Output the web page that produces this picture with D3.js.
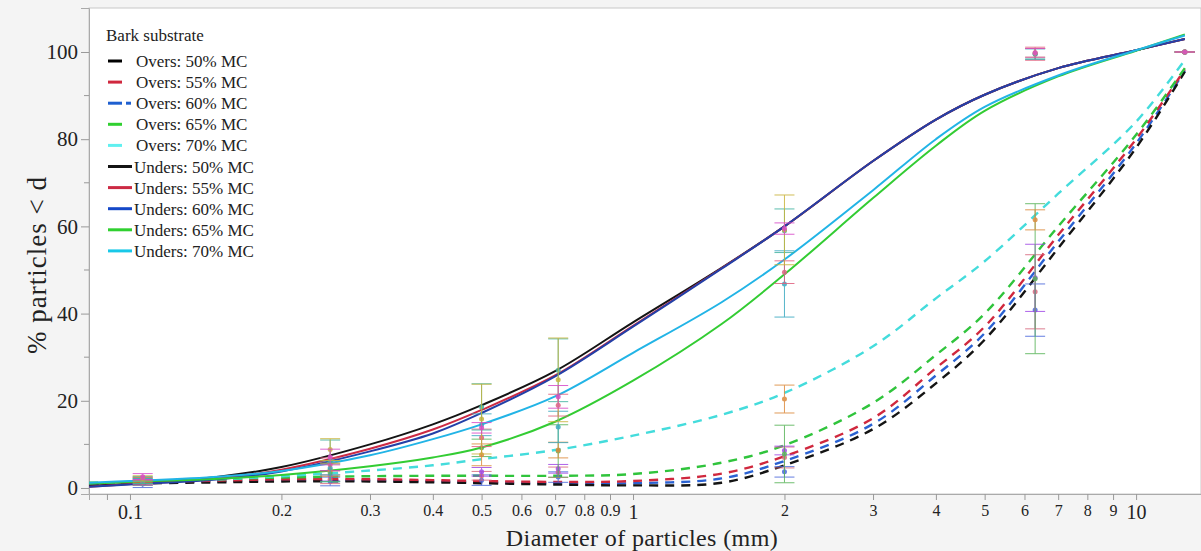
<!DOCTYPE html>
<html lang="en">
<head>
    <meta charset="UTF-8">
    <title>Bark substrate particle size distribution</title>
    <script src="https://d3js.org/d3.v7.min.js"></script>
    <style>
        body {
            margin: 0;
            background: #f4f4f4;
            font-family: "Liberation Serif", "Times New Roman", serif;
        }
        .tick-major { font-size: 21px; }
        .tick-minor { font-size: 16px; }
        .legend text { font-size: 17px; fill: #222; }
    </style>
</head>
<body>
    <div id="chart"></div>

    <script>
        // fitted curves: % passing at these diameters (mm)
        let curveSizes = [0.083, 0.1, 0.15, 0.2, 0.3, 0.4, 0.5, 0.7, 1, 1.5, 2, 3, 4, 5, 7, 10, 12.5];
        let oversMc50 = [0.8, 1.0, 1.3, 1.5, 1.5, 1.3, 1.1, 0.8, 0.6, 1.2, 5.2, 13.5, 24, 34, 55, 78, 95.5];
        let oversMc55 = [1.0, 1.2, 1.7, 2.0, 2.0, 1.8, 1.6, 1.4, 1.6, 3.3, 7.3, 16, 27.5, 37, 58, 80, 96];
        let oversMc60 = [0.9, 1.1, 1.5, 1.7, 1.7, 1.5, 1.3, 1.1, 1.1, 2.2, 6.2, 14.7, 25.8, 35.5, 56.5, 79, 95.7];
        let oversMc65 = [1.2, 1.4, 2.0, 2.4, 2.7, 2.8, 2.8, 2.8, 3.2, 5.8, 9.8, 19.5, 30.5, 40, 60, 81, 96.3];
        let oversMc70 = [1.0, 1.3, 2.0, 2.7, 4.0, 5.2, 6.6, 8.7, 12, 16.8, 21.8, 32.5, 43.5, 52, 67.5, 84, 98.2];
        let undersMc50 = [0.5, 1.0, 2.6, 4.8, 10, 14.6, 19, 26.8, 38, 50.5, 60, 75, 84.5, 90.2, 96.3, 100.4, 103];
        let undersMc55 = [0.3, 0.9, 2.2, 4.2, 9.0, 13.4, 17.9, 25.8, 37.2, 50.4, 60, 75, 84.5, 90.2, 96.3, 100.4, 103];
        let undersMc60 = [0.3, 0.8, 2.0, 3.8, 8.4, 12.5, 17.2, 25.6, 37, 50.3, 60, 75, 84.5, 90.2, 96.3, 100.4, 103];
        let undersMc65 = [1.0, 1.4, 2.1, 3.0, 5.0, 7.0, 9.3, 15.2, 24.6, 37.6, 49, 66.5, 78.5, 86.5, 94.4, 100.3, 104];
        let undersMc70 = [1.2, 1.6, 2.6, 3.9, 7.5, 11.2, 14.6, 21, 31, 42.6, 52.4, 68.3, 80, 87.4, 94.6, 100.4, 103.8];

        // measured points: sieve sizes, means and standard deviations
        let sieveSizes = [0.106, 0.25, 0.5, 0.71, 2.0, 6.3, 12.5];
        let oversMc50Mean = [0.9, 1.5, 1.8, 2.5, 3.7, 40.8, 100];
        let oversMc50Sd = [0.8, 1.0, 1.2, 1.2, 1.2, 6.0, 0];
        let oversMc55Mean = [1.2, 2.0, 2.8, 3.6, 7.0, 45.0, 100];
        let oversMc55Sd = [0.6, 1.0, 1.0, 1.2, 2.4, 8.5, 0];
        let oversMc60Mean = [1.4, 2.8, 3.7, 4.4, 8.6, 48.2, 100];
        let oversMc60Sd = [0.5, 1.2, 1.0, 1.0, 1.0, 7.7, 0];
        let oversMc65Mean = [1.6, 3.5, 9.2, 8.5, 7.8, 48.0, 100];
        let oversMc65Sd = [0.6, 2.0, 2.0, 6.0, 6.6, 17.2, 0];
        let oversMc70Mean = [1.8, 4.2, 7.6, 8.7, 20.4, 61.5, 100];
        let oversMc70Sd = [0.6, 1.5, 2.5, 1.8, 3.2, 2.3, 0];
        let undersMc50Mean = [2.2, 8.8, 15.8, 24.8, 59.2, 99.8, 100];
        let undersMc50Sd = [0.6, 2.5, 8.0, 9.6, 8.0, 1.0, 0];
        let undersMc55Mean = [2.6, 7.1, 13.8, 20.9, 59.5, 99.8, 100];
        let undersMc55Sd = [0.7, 1.8, 1.2, 2.6, 1.3, 1.0, 0];
        let undersMc60Mean = [1.8, 6.2, 18.6, 27.0, 59.0, 99.6, 100];
        let undersMc60Sd = [0.8, 4.8, 5.3, 7.2, 5.0, 1.2, 0];
        let undersMc65Mean = [1.6, 5.4, 11.5, 19.0, 49.5, 99.6, 100];
        let undersMc65Sd = [0.9, 1.5, 2.0, 2.5, 2.6, 1.5, 0];
        let undersMc70Mean = [1.4, 4.6, 14.5, 14.0, 46.8, 99.5, 100];
        let undersMc70Sd = [0.8, 1.6, 2.5, 3.6, 7.6, 1.2, 0];

        let legendLabels = ["Overs: 50% MC", "Overs: 55% MC", "Overs: 60% MC", "Overs: 65% MC", "Overs: 70% MC",
                            "Unders: 50% MC", "Unders: 55% MC", "Unders: 60% MC", "Unders: 65% MC", "Unders: 70% MC"];
        let yTicks = [0, 20, 40, 60, 80, 100];
        let yMinorTicks = [10, 30, 50, 70, 90];
        let xTicks = [0.09, 0.1, 0.2, 0.3, 0.4, 0.5, 0.6, 0.7, 0.8, 0.9, 1, 2, 3, 4, 5, 6, 7, 8, 9, 10];
        let xMajorLabels = [0.1, 1, 10];

        let curves = [
            { name: legendLabels[0], values: oversMc50, color: "#141414", dashed: true },
            { name: legendLabels[1], values: oversMc55, color: "#d0283e", dashed: true },
            { name: legendLabels[2], values: oversMc60, color: "#2a62d2", dashed: true },
            { name: legendLabels[3], values: oversMc65, color: "#30c43c", dashed: true },
            { name: legendLabels[4], values: oversMc70, color: "#44dcdc", dashed: true },
            { name: legendLabels[5], values: undersMc50, color: "#141414", dashed: false },
            { name: legendLabels[6], values: undersMc55, color: "#cc2a44", dashed: false },
            { name: legendLabels[7], values: undersMc60, color: "#2340a8", dashed: false },
            { name: legendLabels[8], values: undersMc65, color: "#33cc33", dashed: false },
            { name: legendLabels[9], values: undersMc70, color: "#22b4e6", dashed: false }
        ];
        let legendColors = ["#000000", "#d0283e", "#1e5fd0", "#30d030", "#60f0f0",
                            "#141414", "#cc2a44", "#1448c8", "#30d030", "#18c8e8"];

        let points = [
            { mean: oversMc50Mean, sd: oversMc50Sd, color: "#4a68dc" },
            { mean: oversMc55Mean, sd: oversMc55Sd, color: "#d8687e" },
            { mean: oversMc60Mean, sd: oversMc60Sd, color: "#a048e6" },
            { mean: oversMc65Mean, sd: oversMc65Sd, color: "#58b458" },
            { mean: oversMc70Mean, sd: oversMc70Sd, color: "#dc8a3c" },
            { mean: undersMc70Mean, sd: undersMc70Sd, color: "#39a9c0" },
            { mean: undersMc65Mean, sd: undersMc65Sd, color: "#e0607e" },
            { mean: undersMc60Mean, sd: undersMc60Sd, color: "#3fb3a0" },
            { mean: undersMc50Mean, sd: undersMc50Sd, color: "#c9b43a" },
            { mean: undersMc55Mean, sd: undersMc55Sd, color: "#d84ac8" }
        ];

        let width = 1201, height = 551;
        let plot = { left: 89, top: 8, right: 1201, bottom: 494 };

        let svg = d3.select("#chart").append("svg")
            .attr("width", width)
            .attr("height", height);

        let x = d3.scaleLog()
            .domain([0.0829, 13.46])
            .range([plot.left, plot.right]);

        let y = d3.scaleLinear()
            .domain([-1.38, 110.09])
            .range([plot.bottom, plot.top]);

        svg.append("rect")
            .attr("x", plot.left)
            .attr("y", plot.top)
            .attr("width", plot.right - plot.left)
            .attr("height", plot.bottom - plot.top)
            .attr("fill", "#ffffff")
            .attr("stroke", "#c8c8c8")
            .attr("stroke-width", 1);

        svg.append("clipPath").attr("id", "clip")
            .append("rect")
            .attr("x", plot.left)
            .attr("y", plot.top)
            .attr("width", plot.right - plot.left)
            .attr("height", plot.bottom - plot.top);

        // y axis
        let yAxis = svg.append("g")
            .attr("transform", "translate(" + plot.left + ",0)")
            .call(d3.axisLeft(y).tickValues(yTicks).tickSize(8).tickPadding(3).tickFormat(d3.format("d")));
        yAxis.selectAll("text").attr("class", "tick-major")
            .style("font-family", "Liberation Serif").attr("fill", "#222");
        yAxis.append("g").selectAll("line")
            .data(yMinorTicks)
            .enter().append("line")
            .attr("x1", -5).attr("x2", 0)
            .attr("y1", d => y(d)).attr("y2", d => y(d))
            .attr("stroke", "#999");

        // x axis
        let xAxis = svg.append("g")
            .attr("transform", "translate(0," + plot.bottom + ")")
            .call(d3.axisBottom(x).tickValues(xTicks).tickSize(6).tickPadding(4)
                .tickFormat(d => d === 0.09 ? "" : d3.format("~g")(d)));
        xAxis.selectAll(".tick text")
            .attr("class", d => xMajorLabels.includes(d) ? "tick-major" : "tick-minor")
            .style("font-size", d => xMajorLabels.includes(d) ? "20px" : null)
            .attr("dy", "0.75em")
            .style("font-family", "Liberation Serif")
            .attr("fill", "#222");

        svg.selectAll(".domain").attr("stroke", "#aaa");
        svg.selectAll(".tick line").attr("stroke", "#999");

        // curves
        let line = d3.line()
            .x((v, i) => x(curveSizes[i]))
            .y(v => y(v))
            .curve(d3.curveCatmullRom.alpha(0.5));

        let drawOrder = [2, 0, 1, 3, 4, 5, 6, 7, 8, 9];
        let curveLayer = svg.append("g").attr("clip-path", "url(#clip)");
        drawOrder.forEach(i => {
            let c = curves[i];
            curveLayer.append("path")
                .datum(c.values)
                .attr("d", line)
                .attr("fill", "none")
                .attr("stroke", c.color)
                .attr("stroke-width", c.dashed ? 2.4 : 2)
                .attr("stroke-dasharray", c.dashed ? "9,7" : null);
        });

        // error bars
        let barLayer = svg.append("g").attr("clip-path", "url(#clip)");
        points.forEach(p => {
            let g = barLayer.append("g").attr("stroke", p.color).attr("fill", p.color).attr("opacity", 0.85);
            sieveSizes.forEach((s, i) => {
                let cx = x(s), lo = y(p.mean[i] - p.sd[i]), hi = y(p.mean[i] + p.sd[i]);
                g.append("line").attr("x1", cx).attr("x2", cx).attr("y1", lo).attr("y2", hi);
                g.append("line").attr("x1", cx - 10).attr("x2", cx + 10).attr("y1", lo).attr("y2", lo);
                g.append("line").attr("x1", cx - 10).attr("x2", cx + 10).attr("y1", hi).attr("y2", hi);
                g.append("circle").attr("cx", cx).attr("cy", y(p.mean[i])).attr("r", 2.5).attr("stroke", "none");
            });
        });

        // legend
        let legend = svg.append("g").attr("class", "legend");
        legend.append("text")
            .attr("x", 106).attr("y", 41)
            .text("Bark substrate");

        curves.forEach((c, i) => {
            let cy = 61 + i * 21.1;
            let item = legend.append("g");
            item.append("line")
                .attr("x1", 108).attr("x2", c.dashed ? 122 : 132)
                .attr("y1", cy).attr("y2", cy)
                .attr("stroke", legendColors[i])
                .attr("stroke-width", 3);
            if (i === 2) {
                item.append("line")
                    .attr("x1", 126).attr("x2", 131)
                    .attr("y1", cy).attr("y2", cy)
                    .attr("stroke", legendColors[i])
                    .attr("stroke-width", 3);
            }
            item.append("text")
                .attr("x", c.dashed ? 136 : 134).attr("y", cy + 6)
                .text(c.name);
        });

        // axis titles
        svg.append("text")
            .attr("x", 642).attr("y", 546)
            .attr("text-anchor", "middle")
            .style("font-size", "24px")
            .style("letter-spacing", "0.4px")
            .attr("fill", "#222")
            .text("Diameter of particles (mm)");

        svg.append("text")
            .attr("transform", "translate(46,265) rotate(-90)")
            .attr("text-anchor", "middle")
            .style("font-size", "27px")
            .style("letter-spacing", "1px")
            .attr("fill", "#222")
            .text("% particles < d");
    </script>
</body>
</html>
